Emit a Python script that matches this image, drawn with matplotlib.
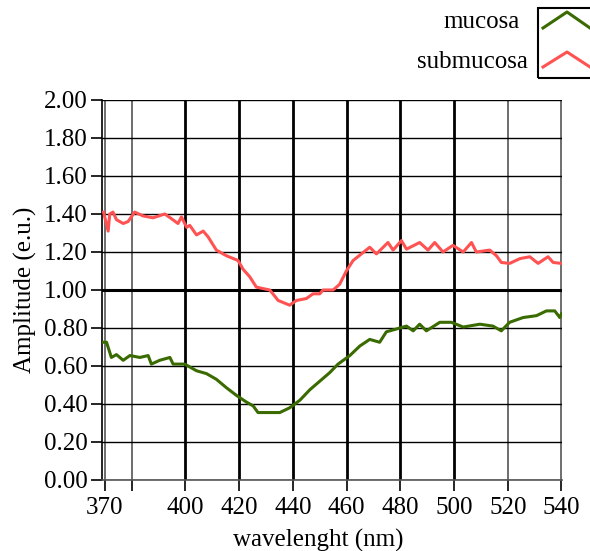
import matplotlib
matplotlib.use("Agg")
import matplotlib.pyplot as plt
from matplotlib.patches import Rectangle

plt.rcParams['font.family'] = ['Liberation Serif', 'DejaVu Serif']

# --- datos ---
wl_sub = [369.5, 371.2, 371.8, 373.0, 374.3, 376.8, 378.6, 381.1, 384.2, 387.9,
          392.3, 394.8, 397.2, 398.5, 400.4, 401.6, 404.1, 406.6, 408.4, 411.5,
          415.3, 419.6, 421.4, 423.9, 426.4, 431.4, 434.5, 438.8, 441.3, 445.0,
          447.5, 450.0, 451.2, 455.0, 457.4, 459.9, 462.4, 465.5, 468.6, 471.1,
          475.4, 477.3, 480.4, 482.3, 487.2, 490.3, 492.8, 495.9, 499.6, 503.4,
          506.5, 508.3, 513.3, 515.8, 517.6, 520.7, 524.5, 528.2, 531.3, 535.0,
          536.9, 540.0]
amp_sub = [1.41, 1.31, 1.40, 1.41, 1.37, 1.35, 1.36, 1.41, 1.39, 1.38,
           1.40, 1.375, 1.35, 1.385, 1.33, 1.34, 1.29, 1.31, 1.28, 1.21,
           1.18, 1.155, 1.11, 1.07, 1.015, 1.00, 0.945, 0.92, 0.945, 0.955,
           0.98, 0.98, 1.00, 1.00, 1.03, 1.10, 1.155, 1.19, 1.225, 1.19,
           1.25, 1.21, 1.26, 1.215, 1.25, 1.21, 1.25, 1.20, 1.235, 1.20,
           1.25, 1.20, 1.21, 1.18, 1.145, 1.14, 1.165, 1.175, 1.14, 1.175,
           1.145, 1.14]

wl_muc = [369.5, 370.6, 372.4, 374.3, 376.8, 379.3, 383.0, 386.1, 387.3, 390.4,
          394.2, 395.4, 399.7, 404.1, 407.8, 411.5, 415.3, 419.0, 422.7, 425.2,
          427.0, 431.4, 435.1, 438.8, 442.6, 446.3, 450.0, 453.7, 456.8, 461.2,
          464.9, 468.6, 472.3, 474.8, 478.6, 482.3, 484.8, 487.2, 489.7, 494.7,
          499.0, 503.4, 509.6, 514.5, 517.6, 520.7, 525.7, 530.7, 534.4, 537.5,
          539.4, 540.0]
amp_muc = [0.725, 0.725, 0.645, 0.66, 0.63, 0.655, 0.645, 0.655, 0.61, 0.63,
           0.645, 0.61, 0.61, 0.575, 0.56, 0.53, 0.485, 0.445, 0.41, 0.39,
           0.355, 0.355, 0.355, 0.38, 0.42, 0.475, 0.52, 0.565, 0.61, 0.655,
           0.705, 0.74, 0.725, 0.78, 0.795, 0.81, 0.785, 0.82, 0.785, 0.83,
           0.83, 0.805, 0.82, 0.81, 0.785, 0.83, 0.855, 0.865, 0.89, 0.89,
           0.855, 0.875]

xticks = [370, 380, 400, 420, 440, 460, 480, 500, 520, 540]
xlabels = ['370', '', '400', '420', '440', '460', '480', '500', '520', '540']
yticks = [0.0, 0.2, 0.4, 0.6, 0.8, 1.0, 1.2, 1.4, 1.6, 1.8, 2.0]

verde = '#3a6b00'
rojo = '#ff5252'
fs = 18

W, H = 590, 551
fig = plt.figure(figsize=(W / 100, H / 100), dpi=100)
ax = fig.add_axes([101.7 / W, 1 - 480 / H, (562 - 101.7) / W, (480 - 100) / H])

# rejilla (Igor la dibuja con grosores distintos)
for x in xticks:
    grueso = x in (400, 420, 440, 460, 480, 500)
    ax.axvline(x, color='black' if grueso else '#555555', lw=2.0 if grueso else 1.2, zorder=1)
for y in yticks:
    ax.axhline(y, color='black', lw=2.2 if y == 1.0 else 1.0, zorder=1)

ax.plot(wl_sub, amp_sub, color=rojo, lw=2.2, zorder=3)
ax.plot(wl_muc, amp_muc, color=verde, lw=2.2, zorder=3)

ax.set_xlim(368.8, 540.2)
ax.set_ylim(0, 2.0)
ax.set_xticks(xticks)
ax.set_xticklabels(xlabels)
ax.set_yticks(yticks)
ax.set_yticklabels([f"{v:.2f}" for v in yticks])
ax.tick_params(direction='out', length=8, width=1.2, labelsize=fs, pad=2)
ax.tick_params(axis='x', pad=4)
for s in ['top', 'right']:
    ax.spines[s].set_visible(False)
ax.spines['left'].set_linewidth(1.2)
ax.spines['bottom'].set_linewidth(1.2)
ax.spines['bottom'].set_color('#555555')

ax.set_xlabel("wavelenght (nm)", fontsize=fs)
ax.xaxis.set_label_coords((318 - 101.7) / (562 - 101.7), -(540 - 480) / 380, transform=ax.transAxes)
ax.xaxis.label.set_va('center')
ax.set_ylabel("Amplitude (e.u.)", fontsize=fs)
ax.yaxis.set_label_coords(-(101.7 - 25) / (562 - 101.7), 0.5, transform=ax.transAxes)
ax.yaxis.label.set_va('center')

# leyenda al estilo Igor
fig.text(520 / W, 1 - 22 / H, "mucosa", ha='right', va='center', fontsize=fs)
fig.text(528 / W, 1 - 62 / H, "submucosa", ha='right', va='center', fontsize=fs)
fig.patches.append(Rectangle((538 / W, 1 - 78 / H), 60 / W, 70 / H, transform=fig.transFigure,
                             fill=False, edgecolor='black', lw=1.5))
fig.add_artist(plt.Line2D([543 / W, 567 / W, 590 / W], [1 - 28 / H, 1 - 12 / H, 1 - 28 / H],
                          transform=fig.transFigure, color=verde, lw=2.2))
fig.add_artist(plt.Line2D([543 / W, 567 / W, 590 / W], [1 - 67 / H, 1 - 52 / H, 1 - 67 / H],
                          transform=fig.transFigure, color=rojo, lw=2.2))

fig.savefig("out.png", dpi=100)
